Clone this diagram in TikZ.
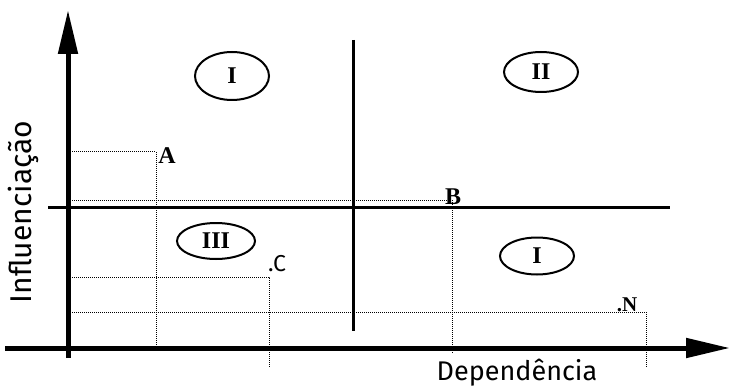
\documentclass[tikz,border=0pt]{standalone}
\usepackage{fontspec}
\newfontfamily\axisfont{Fira Sans}
\newfontfamily\markfont{Liberation Serif}
\usetikzlibrary{arrows.meta,shapes.geometric,positioning}
\tikzset{
  axisline/.style={line width=5pt,-{Triangle[length=44pt,width=19pt]}},
  midline/.style={line width=3pt},
  guide/.style={dash pattern=on 1pt off 1pt,line width=1pt},
  zone/.style={draw,ellipse,line width=2pt,minimum width=74pt,minimum height=44pt,inner sep=0pt,font=\markfont\fontsize{24}{24}\selectfont\bfseries},
  pointlbl/.style={inner sep=0pt,font=\markfont\fontsize{24}{24}\selectfont\bfseries},
  axislbl/.style={inner sep=0pt,font=\axisfont\fontsize{27}{27}\selectfont},
}
\begin{document}
\begin{tikzpicture}[x=1pt,y=-1pt]
  \useasboundingbox (0,0) rectangle (730,390);
  % axes and quadrant lines
  \coordinate (yfoot) at (68,358);
  \coordinate (ytip) at (68,10);
  \coordinate (xfoot) at (5,348);
  \coordinate (xtip) at (730,348);
  \coordinate (hleft) at (48,207);
  \coordinate (hright) at (670,207);
  \coordinate (vtop) at (353,40);
  \coordinate (vbot) at (353,331);
  % points
  \coordinate (A) at (156,152);
  \coordinate (B) at (452,200);
  \coordinate (C) at (269,277);
  \coordinate (N) at (646,312);
  % guides
  \draw[guide] (72,152) -- (A) -- (156,348);
  \draw[guide] (72,200) -- (B) -- (452,353);
  \draw[guide] (72,277) -- (C) -- (269,368);
  \draw[guide] (72,312) -- (N) -- (646,367);
  \draw[midline] (hleft) -- (hright);
  \draw[midline] (vtop) -- (vbot);
  \draw[axisline] (yfoot) -- (ytip);
  \draw[axisline] (xfoot) -- (xtip);
  % zones
  \node[zone,minimum height=48pt] (zoneI) at (232,76) {I};
  \node[zone,minimum height=40pt] (zoneII) at (541,72) {II};
  \node[zone,minimum height=36pt,minimum width=78pt] (zoneIII) at (216,241) {III};
  \node[zone,minimum height=37pt] (zoneIb) at (537,256) {I};
  % labels
  \node[pointlbl] (labA) at (167,156) {A};
  \node[pointlbl] (labB) at (453,197) {B};
  \node[pointlbl,font=\axisfont\fontsize{23}{23}\selectfont] (labC) at (277,264) {.C};
  \node[pointlbl,font=\markfont\fontsize{21}{21}\selectfont\bfseries] (labN) at (627,305) {.N};
  \node[axislbl,rotate=90,font=\axisfont\fontsize{30}{30}\selectfont] (ylbl) at (23,212) {Influenciação};
  \node[axislbl] (xlbl) at (517,373) {Dependência};
\end{tikzpicture}
\end{document}
